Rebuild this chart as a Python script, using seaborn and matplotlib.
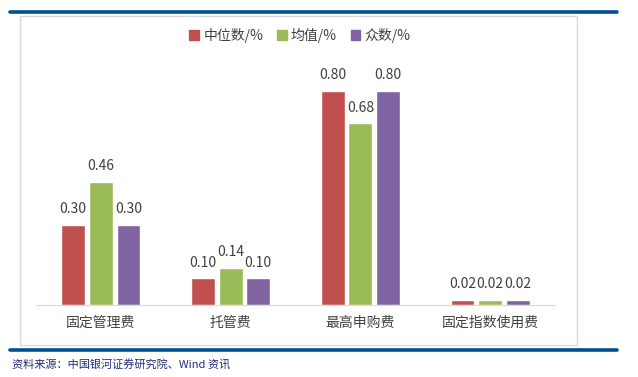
import pandas as pd
import matplotlib
matplotlib.use('Agg')
import matplotlib.pyplot as plt
import seaborn as sns
from matplotlib.patches import Rectangle
from matplotlib.lines import Line2D

# data
categories = ['固定管理费', '托管费', '最高申购费', '固定指数使用费']
series_names = ['中位数/%', '均值/%', '众数/%']
median_vals = [0.30, 0.10, 0.80, 0.02]
mean_vals = [0.46, 0.14, 0.68, 0.02]
mode_vals = [0.30, 0.10, 0.80, 0.02]

colors = ['#C0504D', '#9BBB59', '#8064A2']

rows = []
for name, vals in zip(series_names, [median_vals, mean_vals, mode_vals]):
    for cat, v in zip(categories, vals):
        rows.append({'category': cat, 'series': name, 'value': v})
df = pd.DataFrame(rows)

sns.set_style('white')
plt.rcParams['font.family'] = ['Noto Sans CJK SC', 'DejaVu Sans']

fig = plt.figure(figsize=(6.38, 3.77), dpi=100)
W, H = 638, 377

# outer decorations: blue rules and gray frame
fig.add_artist(Line2D([10 / W, 617 / W], [1 - 11.5 / H, 1 - 11.5 / H], color='#00508F', lw=2.6))
fig.add_artist(Line2D([10 / W, 617 / W], [1 - 350 / H, 1 - 350 / H], color='#00508F', lw=2.6))
fig.add_artist(Rectangle((20 / W, 1 - 345 / H), 557 / W, 329 / H, fill=False,
                         edgecolor='#D9D9D9', lw=1.0))

ax = fig.add_axes([36 / W, 1 - 305 / H, 519 / W, 241 / H])
sns.barplot(data=df, x='category', y='value', hue='series', palette=colors,
            width=0.64, gap=0.14, saturation=1, ax=ax, legend=False)
ax.set_ylim(0, 0.9)
ax.set_xlim(-0.5, 3.5)

for cont in ax.containers:
    ax.bar_label(cont, fmt='%.2f', padding=6, fontsize=10, color='#404040')

for s in ['top', 'right', 'left']:
    ax.spines[s].set_visible(False)
ax.spines['bottom'].set_color('#D9D9D9')
ax.set_yticks([])
ax.set_xlabel('')
ax.set_ylabel('')
ax.tick_params(axis='x', length=0, pad=8, labelsize=10, labelcolor='#404040')

handles = [Rectangle((0, 0), 1, 1, color=c) for c in colors]
fig.legend(handles, series_names, loc='center', bbox_to_anchor=(300 / W, 1 - 35 / H),
           ncol=3, frameon=False, fontsize=10, handlelength=0.7, handleheight=0.7,
           handletextpad=0.3, columnspacing=1.0, labelcolor='#404040')

fig.text(12 / W, 1 - 365 / H, '资料来源：中国银河证券研究院、Wind 资讯', fontsize=8,
         color='#1F2D7A', style='italic', va='center', ha='left')

fig.savefig('out.png', dpi=100)
